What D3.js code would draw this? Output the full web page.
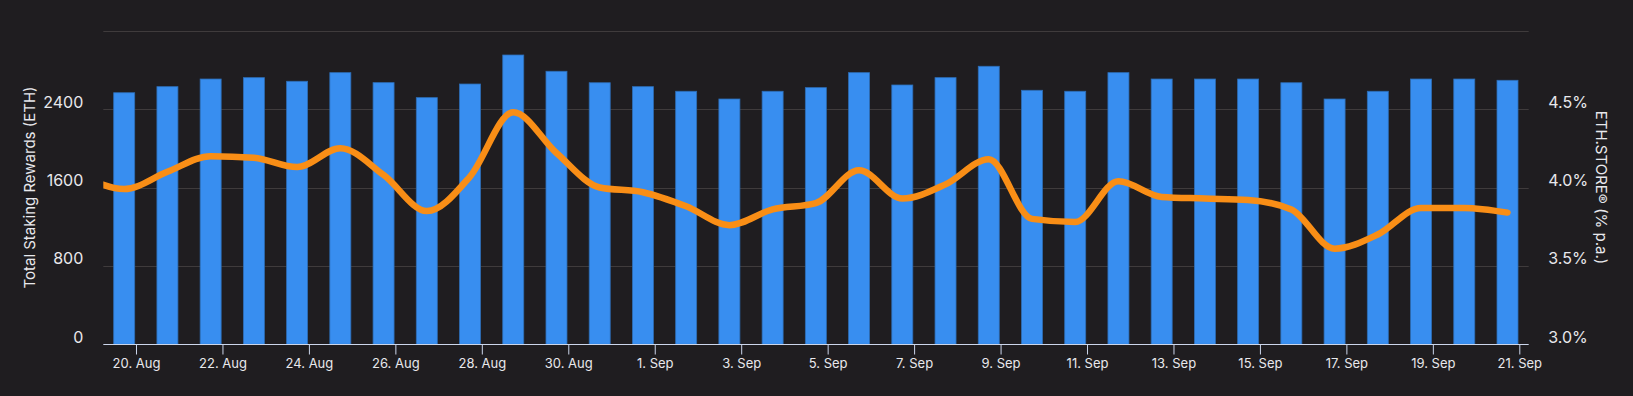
<!DOCTYPE html>
<html>
<head>
<meta charset="utf-8">
<script src="https://cdn.jsdelivr.net/npm/d3@7"></script>
<style>
  html, body { margin: 0; padding: 0; background: #1f1d20; }
  svg { display: block; }
  svg text { font-family: Inter, "Noto Sans", sans-serif; }
</style>
</head>
<body>
<svg id="chart" width="1633" height="396"></svg>
<script>
// ---- data ----
const dates = ["2023-08-20","2023-08-21","2023-08-22","2023-08-23","2023-08-24","2023-08-25","2023-08-26","2023-08-27","2023-08-28","2023-08-29","2023-08-30","2023-08-31","2023-09-01","2023-09-02","2023-09-03","2023-09-04","2023-09-05","2023-09-06","2023-09-07","2023-09-08","2023-09-09","2023-09-10","2023-09-11","2023-09-12","2023-09-13","2023-09-14","2023-09-15","2023-09-16","2023-09-17","2023-09-18","2023-09-19","2023-09-20","2023-09-21"];
const rewards = [2567, 2629, 2707, 2721, 2684, 2772, 2670, 2517, 2656, 2952, 2786, 2669, 2629, 2582, 2503, 2582, 2619, 2772, 2646, 2721, 2837, 2592, 2582, 2772, 2707, 2707, 2707, 2669, 2503, 2582, 2707, 2707, 2694];
const lineDates = ["2023-08-19"].concat(dates);
const apr = [4.08, 3.99, 4.10, 4.20, 4.19, 4.13, 4.25, 4.08, 3.85, 4.07, 4.48, 4.22, 4.00, 3.97, 3.88, 3.76, 3.86, 3.90, 4.11, 3.93, 4.02, 4.18, 3.80, 3.78, 4.04, 3.94, 3.93, 3.92, 3.86, 3.61, 3.70, 3.87, 3.87, 3.84];
const xTicks = ["2023-08-20","2023-08-22","2023-08-24","2023-08-26","2023-08-28","2023-08-30","2023-09-01","2023-09-03","2023-09-05","2023-09-07","2023-09-09","2023-09-11","2023-09-13","2023-09-15","2023-09-17","2023-09-19","2023-09-21"];
const leftTicks = [0, 800, 1600, 2400, 3200];
const rightTicks = [3.0, 3.5, 4.0, 4.5, 5.0];
const leftTitle = "Total Staking Rewards (ETH)";
const rightTitle = "ETH.STORE® (% p.a.)";

// ---- layout ----
const plotL = 103.3, plotR = 1528.7, plotT = 30.7, plotB = 344.3;
const DAY = 86400000;
const pointShift = -0.273 * DAY;
const FONT = "Inter, 'Noto Sans', sans-serif";

const svg = d3.select("#chart");
const parse = d3.utcParse("%Y-%m-%d");

const x = d3.scaleUtc()
  .domain([parse("2023-08-20"), parse("2023-09-21")])
  .range([136, 1519.3]);
const yL = d3.scaleLinear().domain([0, 3200]).range([plotB, plotT]);
const yR = d3.scaleLinear().domain([3.0, 5.0]).range([plotB, plotT]);
const px = d => x(new Date(parse(d).getTime() + pointShift));
const barW = (x(parse("2023-08-21")) - x(parse("2023-08-20"))) * 0.486;

// clip
svg.append("defs").append("clipPath").attr("id", "clip")
  .append("rect").attr("x", plotL).attr("y", 0).attr("width", plotR - plotL).attr("height", plotB + 2);

// gridlines
svg.append("g").selectAll("line").data(leftTicks.filter(t => t > 0)).join("line")
  .attr("x1", plotL).attr("x2", plotR)
  .attr("y1", d => Math.round(yL(d)) + 0.5).attr("y2", d => Math.round(yL(d)) + 0.5)
  .attr("stroke", "#3f3b3c").attr("stroke-width", 1);

// bars
svg.append("g").attr("clip-path", "url(#clip)").selectAll("rect").data(dates).join("rect")
  .attr("x", (d) => px(d) - barW / 2)
  .attr("width", barW)
  .attr("y", (d, i) => yL(rewards[i]))
  .attr("height", (d, i) => yL(0) - yL(rewards[i]))
  .attr("fill", "#388ef0")
  .attr("stroke", "#2d6db5").attr("stroke-width", 0.8);

// line
const line = d3.line()
  .x(d => px(d[0]))
  .y(d => yR(d[1]))
  .curve(d3.curveMonotoneX);
svg.append("path").attr("clip-path", "url(#clip)")
  .datum(lineDates.map((d, i) => [d, apr[i]]))
  .attr("d", line)
  .attr("fill", "none").attr("stroke", "#f98e16").attr("stroke-width", 6.5)
  .attr("stroke-linecap", "round").attr("stroke-linejoin", "round");

// x axis
const xAxis = d3.axisBottom(x)
  .tickValues(xTicks.map(parse))
  .tickFormat(d3.utcFormat("%-d. %b"))
  .tickSize(10).tickSizeOuter(0);
const gx = svg.append("g").attr("transform", `translate(0,${Math.round(plotB) + 0.5})`).call(xAxis)
  .attr("font-family", FONT).attr("font-size", 13);
gx.select(".domain").remove();
gx.append("line").attr("x1", plotL).attr("x2", plotR).attr("y1", 0).attr("y2", 0)
  .attr("stroke", "#ccd6eb").attr("stroke-width", 1);
gx.selectAll(".tick line").attr("stroke", "#ccd6eb").attr("stroke-width", 1);
gx.selectAll(".tick text").attr("fill", "#e8e8ec").attr("font-size", 13).attr("dy", null).attr("y", 23);

// left axis labels
const gl = svg.append("g").attr("transform", `translate(83.3,0)`)
  .call(d3.axisLeft(yL).tickValues(leftTicks.filter(t => t < 3200)).tickFormat(d3.format("d")).tickSize(0).tickPadding(0))
  .attr("font-family", FONT).attr("font-size", 16);
gl.select(".domain").remove();
gl.selectAll(".tick text").attr("fill", "#e8e8ec").attr("font-size", 16).attr("dy", "-2").attr("y", 0);

// right axis labels
const gr = svg.append("g").attr("transform", `translate(1548.3,0)`)
  .call(d3.axisRight(yR).tickValues(rightTicks.filter(t => t < 5.0)).tickFormat(d => d.toFixed(1) + "%").tickSize(0).tickPadding(0))
  .attr("font-family", FONT).attr("font-size", 16);
gr.select(".domain").remove();
gr.selectAll(".tick text").attr("fill", "#e8e8ec").attr("font-size", 16).attr("dy", "-2").attr("y", 0);

// axis titles
svg.append("text")
  .attr("transform", `translate(29.3,${(plotT + plotB) / 2}) rotate(-90)`)
  .attr("text-anchor", "middle").attr("dominant-baseline", "central")
  .attr("font-family", FONT)
  .attr("fill", "#e8e8ec").attr("font-size", 15).text(leftTitle);
svg.append("text")
  .attr("transform", `translate(1601.7,${(plotT + plotB) / 2}) rotate(90)`)
  .attr("text-anchor", "middle").attr("dominant-baseline", "central")
  .attr("font-family", FONT)
  .attr("fill", "#e8e8ec").attr("font-size", 15).text(rightTitle);
</script>
</body>
</html>
